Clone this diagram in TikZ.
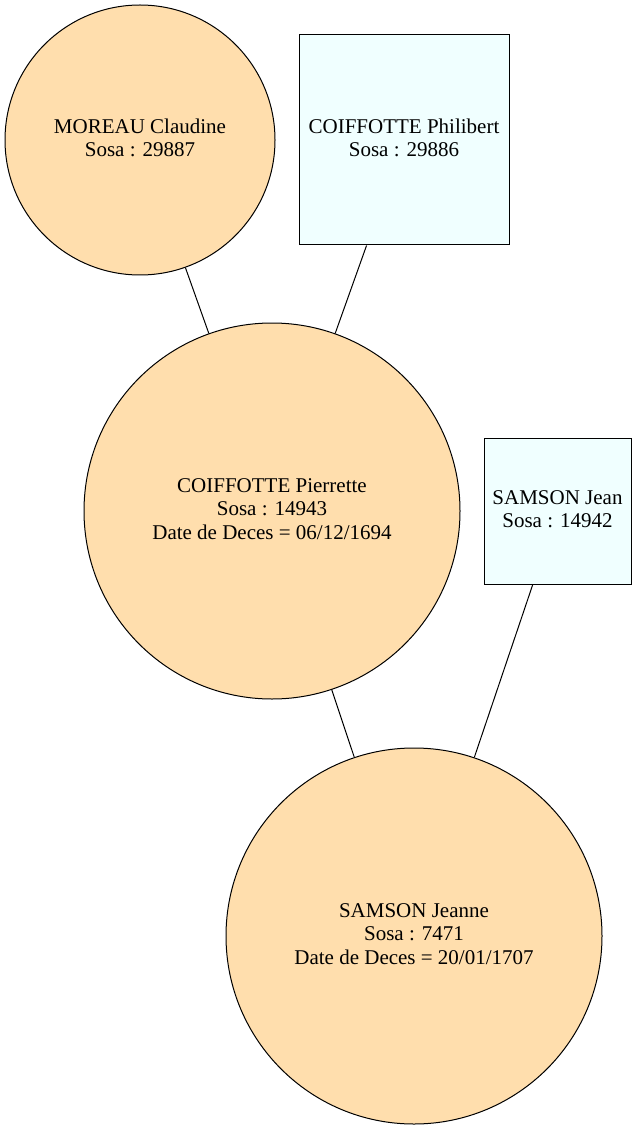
\documentclass[tikz,border=0pt]{standalone}
\usepackage{fontspec}
\setmainfont{Liberation Serif}
\definecolor{fem}{HTML}{FFDEAD}
\definecolor{masc}{HTML}{F0FFFF}
\begin{document}
\begin{tikzpicture}[x=1pt,y=-1pt,
  person/.style={draw=black, line width=1pt, inner sep=0pt, align=center,
    font=\fontsize{21}{23.5}\selectfont},
  woman/.style={person, circle, fill=fem},
  man/.style={person, rectangle, fill=masc},
  link/.style={draw=black, line width=1pt}]
\useasboundingbox (0,0) rectangle (636,1131);
\node[woman, minimum size=270pt] (moreau) at (140,140) {};
\node[font=\fontsize{21}{23.5}\selectfont, align=center] (moreaut) at (140,138) {MOREAU Claudine\\Sosa : 29887};
\node[man, minimum width=210pt, minimum height=210pt] (philibert) at (404,140) {};
\node[font=\fontsize{21}{23.5}\selectfont, align=center] (philibertt) at (404,138) {COIFFOTTE Philibert\\Sosa : 29886};
\node[woman, minimum size=376pt] (pierrette) at (272,511) {};
\node[font=\fontsize{21}{23.5}\selectfont, align=center] (pierrettet) at (272,509) {COIFFOTTE Pierrette\\Sosa : 14943\\Date de Deces = 06/12/1694};
\node[man, minimum width=147pt, minimum height=146pt] (jean) at (557.5,511) {};
\node[font=\fontsize{21}{23.5}\selectfont, align=center] (jeant) at (557.5,509) {SAMSON Jean\\Sosa : 14942};
\node[woman, minimum size=376pt] (jeanne) at (414,936) {};
\node[font=\fontsize{21}{23.5}\selectfont, align=center] (jeannet) at (414,934) {SAMSON Jeanne\\Sosa : 7471\\Date de Deces = 20/01/1707};
\draw[link] (moreau) -- (pierrette);
\draw[link] (philibert) -- (pierrette);
\draw[link] (pierrette) -- (jeanne);
\draw[link] (jean) -- (jeanne);
\end{tikzpicture}
\end{document}
